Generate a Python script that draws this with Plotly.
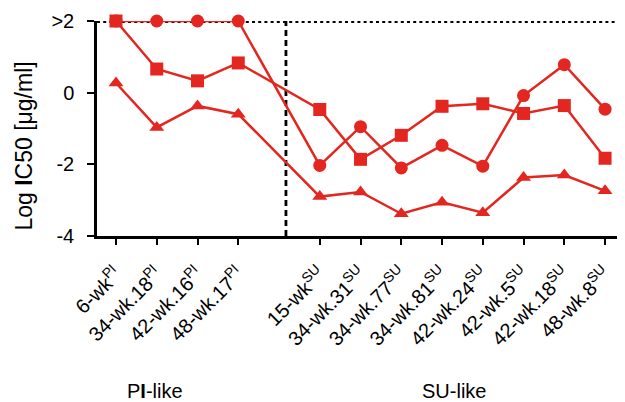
import plotly.graph_objects as go

pi_labels = ["6-wk<sup>PI</sup>", "34-wk.18<sup>PI</sup>", "42-wk.16<sup>PI</sup>", "48-wk.17<sup>PI</sup>"]
su_labels = ["15-wk<sup>SU</sup>", "34-wk.31<sup>SU</sup>", "34-wk.77<sup>SU</sup>", "34-wk.81<sup>SU</sup>",
             "42-wk.24<sup>SU</sup>", "42-wk.5<sup>SU</sup>", "42-wk.18<sup>SU</sup>", "48-wk.8<sup>SU</sup>"]
pi_pos = [0, 1, 2, 3]
su_pos = [5, 6, 7, 8, 9, 10, 11, 12]

circles = [2, 2, 2, 2, -2.03, -0.95, -2.1, -1.47, -2.05, -0.08, 0.78, -0.46]
squares = [2, 0.66, 0.33, 0.83, -0.47, -1.86, -1.19, -0.38, -0.31, -0.58, -0.36, -1.83]
triangles = [0.27, -0.97, -0.37, -0.6, -2.9, -2.77, -3.38, -3.06, -3.35, -2.37, -2.3, -2.74]

y_ticks = [2, 0, -2, -4]
y_tick_text = [">2", "0", "-2", "-4"]

red = "#E3261F"
xs = pi_pos + su_pos

fig = go.Figure()
# reference lines
fig.add_trace(go.Scatter(x=[-0.466, 12.6], y=[2, 2], mode="lines",
                         line=dict(color="black", width=4, dash="3px,3.2px"), showlegend=False,
                         hoverinfo="skip", cliponaxis=False))
fig.add_trace(go.Scatter(x=[4.17, 4.17], y=[-4, 2], mode="lines",
                         line=dict(color="black", width=2.8, dash="6px,4px"), showlegend=False, hoverinfo="skip"))

for vals, sym, size in [(circles, "circle", 13), (squares, "square", 13), (triangles, "triangle-up", 13)]:
    fig.add_trace(go.Scatter(x=xs, y=vals, mode="lines+markers",
                             line=dict(color=red, width=2.5),
                             marker=dict(symbol=sym, size=size, color=red),
                             showlegend=False, cliponaxis=False))

font = dict(family="Liberation Sans, Arial, sans-serif", size=20, color="black")

fig.update_layout(
    width=617, height=394,
    margin=dict(l=89, r=2, t=13, b=166),
    plot_bgcolor="white", paper_bgcolor="white",
    font=font,
    xaxis=dict(range=[-0.466, 12.44], tickmode="array", tickvals=xs, ticktext=pi_labels + su_labels,
               tickangle=-45, showline=True, linecolor="black", linewidth=2.5,
               ticks="outside", ticklen=6, tickwidth=2, tickcolor="black",
               showgrid=False, zeroline=False, ticklabelstandoff=10, automargin=False),
    yaxis=dict(range=[-4, 2], tickmode="array", tickvals=y_ticks, ticktext=y_tick_text,
               showline=True, linecolor="black", linewidth=2.5,
               ticks="outside", ticklen=7, tickwidth=2, tickcolor="black",
               showgrid=False, zeroline=False, automargin=False, ticklabelstandoff=9),
    annotations=[
        dict(text="Log <b>I</b>C50 [μg/ml]", x=-0.139, y=0.42, xref="paper", yref="paper",
             showarrow=False, textangle=-90, xanchor="center", yanchor="middle",
             font=dict(family=font["family"], size=23, color="black")),
        dict(text="P<b>I</b>-like", x=0.96, y=-0.721, xref="x", yref="paper", showarrow=False,
             xanchor="center", yanchor="middle", font=font),
        dict(text="SU-like", x=8.29, y=-0.721, xref="x", yref="paper", showarrow=False,
             xanchor="center", yanchor="middle", font=font),
    ],
)

fig.write_html("out.html")
